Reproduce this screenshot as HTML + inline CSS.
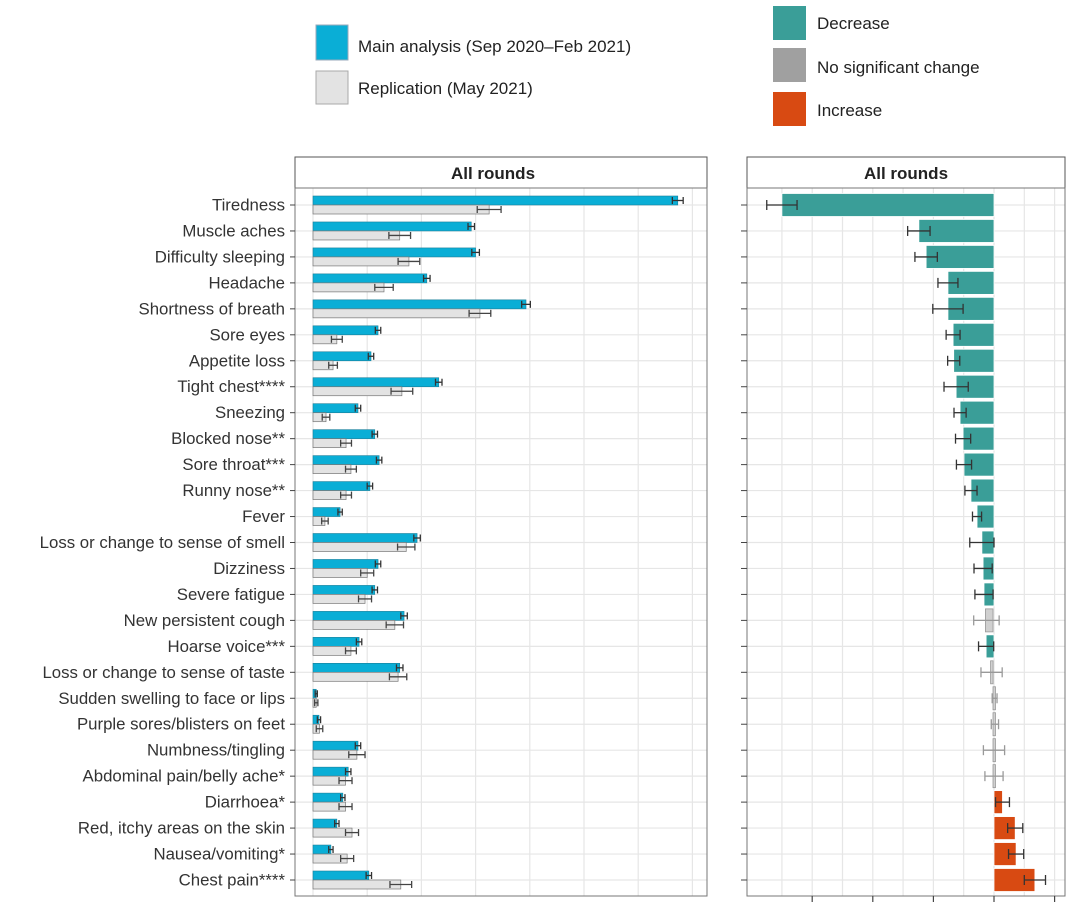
<!DOCTYPE html>
<html><head><meta charset="utf-8"><style>
body{margin:0;background:#fff;}
svg{display:block;font-family:"Liberation Sans",sans-serif;}
</style></head><body>
<svg id="chart" width="1080" height="903" viewBox="0 0 1080 903">
<g>
<rect x="316" y="25" width="32" height="35" fill="#0aaed6" stroke="#9ab"/>
<text x="358" y="52" font-size="17" fill="#222">Main analysis (Sep 2020–Feb 2021)</text>
<rect x="316" y="71" width="32" height="33" fill="#e3e3e3" stroke="#aaa"/>
<text x="358" y="94" font-size="17" fill="#222">Replication (May 2021)</text>
</g>
<g>
<rect x="773" y="6" width="33" height="34" fill="#3a9e98"/>
<text x="817" y="29" font-size="17" fill="#222">Decrease</text>
<rect x="773" y="48" width="33" height="34" fill="#a0a0a0"/>
<text x="817" y="73" font-size="17" fill="#222">No significant change</text>
<rect x="773" y="92" width="33" height="34" fill="#d84a12"/>
<text x="817" y="116" font-size="17" fill="#222">Increase</text>
</g>
<rect x="295" y="157" width="412" height="31" fill="#fff" stroke="#555"/>
<text x="493" y="179" font-size="17" font-weight="bold" text-anchor="middle" fill="#222">All rounds</text>
<rect x="747" y="157" width="318" height="31" fill="#fff" stroke="#555"/>
<text x="906" y="179" font-size="17" font-weight="bold" text-anchor="middle" fill="#222">All rounds</text>
<g id="grid"></g>
<g id="marks"></g>
<rect x="295" y="188" width="412" height="708" fill="none" stroke="#777"/>
<rect x="747" y="188" width="318" height="708" fill="none" stroke="#777"/>
<g id="labels"></g>
</svg>
<script>
const symptoms=["Tiredness","Muscle aches","Difficulty sleeping","Headache","Shortness of breath","Sore eyes","Appetite loss","Tight chest****","Sneezing","Blocked nose**","Sore throat***","Runny nose**","Fever","Loss or change to sense of smell","Dizziness","Severe fatigue","New persistent cough","Hoarse voice***","Loss or change to sense of taste","Sudden swelling to face or lips","Purple sores/blisters on feet","Numbness/tingling","Abdominal pain/belly ache*","Diarrhoea*","Red, itchy areas on the skin","Nausea/vomiting*","Chest pain****"];
const mainVals=[6.73,2.92,3.0,2.1,3.93,1.2,1.07,2.32,0.83,1.14,1.22,1.05,0.5,1.92,1.2,1.14,1.68,0.85,1.6,0.06,0.11,0.83,0.65,0.55,0.44,0.33,1.03];
const mainErr=[0.1,0.06,0.07,0.06,0.08,0.05,0.05,0.06,0.05,0.05,0.05,0.05,0.04,0.06,0.05,0.05,0.06,0.05,0.06,0.02,0.03,0.05,0.05,0.04,0.04,0.04,0.05];
const repVals=[3.25,1.6,1.77,1.31,3.08,0.44,0.37,1.64,0.24,0.61,0.7,0.61,0.22,1.72,1.0,0.96,1.51,0.7,1.57,0.06,0.12,0.81,0.6,0.6,0.72,0.63,1.62];
const repErr=[0.22,0.2,0.2,0.17,0.2,0.1,0.08,0.2,0.07,0.1,0.1,0.1,0.06,0.16,0.12,0.12,0.16,0.1,0.16,0.03,0.06,0.15,0.12,0.12,0.12,0.12,0.2];
const changeVals=[-7.0,-2.48,-2.24,-1.52,-1.52,-1.35,-1.33,-1.25,-1.12,-1.02,-0.99,-0.76,-0.56,-0.4,-0.36,-0.33,-0.25,-0.26,-0.08,0.02,0.03,0.0,0.0,0.28,0.7,0.73,1.35];
const changeErr=[0.5,0.37,0.37,0.33,0.5,0.23,0.2,0.4,0.2,0.25,0.25,0.2,0.15,0.4,0.3,0.3,0.42,0.25,0.35,0.08,0.12,0.35,0.3,0.23,0.25,0.25,0.35];
const changeStatus=["d","d","d","d","d","d","d","d","d","d","d","d","d","d","d","d","n","d","n","n","n","n","n","i","i","i","i"];
const leftTicks=[0,1,2,3,4,5,6,7];
const rightGrid=[-7,-6,-5,-4,-3,-2,-1,0,1,2];
const rightTicks=[-6,-4,-2,0,2];

const NS="http://www.w3.org/2000/svg";
const n=symptoms.length;
const rowY=i=>205+i*(675/(n-1));
const xL=v=>313+v*54.2;
const xR=v=>994+v*30.3;
function mk(tag,attrs,parent){const e=document.createElementNS(NS,tag);for(const k in attrs)e.setAttribute(k,attrs[k]);parent.appendChild(e);return e;}
const grid=document.getElementById('grid'),marks=document.getElementById('marks'),labels=document.getElementById('labels');
leftTicks.forEach(t=>{const l=mk('line',{x1:xL(t),x2:xL(t),y1:188,y2:896,stroke:'#e6e6e6','stroke-width':1.2},grid);

});
rightGrid.forEach(t=>{const l=mk('line',{x1:xR(t),x2:xR(t),y1:188,y2:896,stroke:'#e6e6e6','stroke-width':1.2},grid);

});
rightTicks.forEach(t=>{const l=mk('line',{x1:xR(t),x2:xR(t),y1:896,y2:902,stroke:'#444','stroke-width':1.2},labels);

});
function errbar(x1,x2,y,h,col,parent){
  mk('line',{x1:x1,x2:x2,y1:y,y2:y,stroke:col,'stroke-width':1.3},parent);
  mk('line',{x1:x1,x2:x1,y1:y-h,y2:y+h,stroke:col,'stroke-width':1.3},parent);
  mk('line',{x1:x2,x2:x2,y1:y-h,y2:y+h,stroke:col,'stroke-width':1.3},parent);
}
const colors={d:'#3a9e98',n:'#d0d0d0',i:'#d84a12'};
for(let i=0;i<n;i++){
  const y=rowY(i);
  mk('line',{x1:295,x2:707,y1:y,y2:y,stroke:'#e6e6e6','stroke-width':1.2},grid);
  mk('line',{x1:747,x2:1065,y1:y,y2:y,stroke:'#e6e6e6','stroke-width':1.2},grid);
  const t=mk('text',{x:285,y:y+5.5,'font-size':16.8,'text-anchor':'end',fill:'#333'},labels);
  t.textContent=symptoms[i];
  
  
  mk('line',{x1:290,x2:295,y1:y,y2:y,stroke:'#444'},labels);
  mk('line',{x1:741,x2:747,y1:y,y2:y,stroke:'#444'},labels);
  const b=mk('rect',{x:xL(0),y:y-9,width:Math.max(1,xL(mainVals[i])-xL(0)),height:9,fill:'#0aaed6',stroke:'#1a7f9a','stroke-width':0.6},marks);
  
  
  errbar(xL(mainVals[i]-mainErr[i]),xL(mainVals[i]+mainErr[i]),y-4.5,3.5,'#333',marks);
  const r=mk('rect',{x:xL(0),y:y,width:Math.max(1,xL(repVals[i])-xL(0)),height:9,fill:'#e3e3e3',stroke:'#777','stroke-width':0.7},marks);
  
  
  errbar(xL(repVals[i]-repErr[i]),xL(repVals[i]+repErr[i]),y+4.5,3.5,'#444',marks);
  const v=changeVals[i],s=changeStatus[i];
  const x1=Math.min(xR(0),xR(v)),w=Math.max(Math.abs(xR(v)-xR(0)),s==='n'?2.5:1);
  const c=mk('rect',{x:s==='n'?x1-1:x1,y:y-11.5,width:w,height:23,fill:colors[s],stroke:s==='n'?'#999':'#fff','stroke-width':0.8},marks);
  
  
  errbar(xR(v-changeErr[i]),xR(v+changeErr[i]),y,5,s==='n'?'#999':'#333',marks);
}
</script>
</body></html>
